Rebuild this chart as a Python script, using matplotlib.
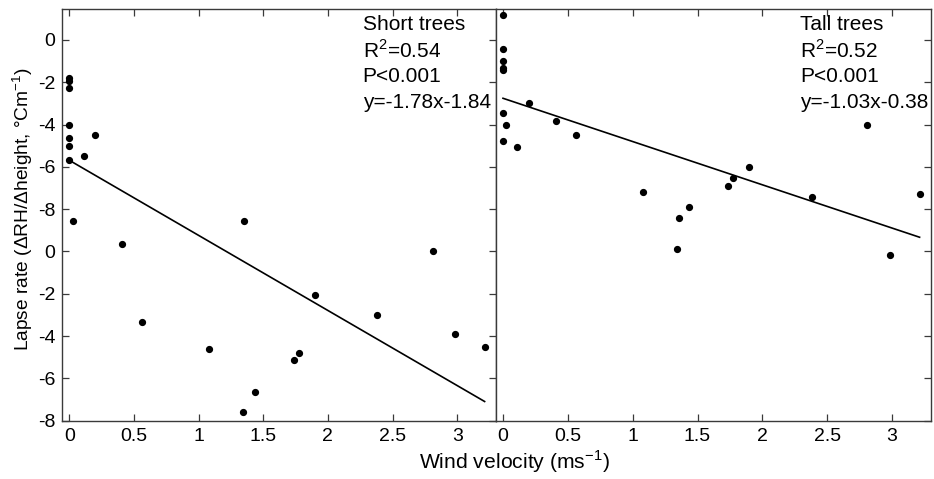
import matplotlib
matplotlib.use("Agg")
import matplotlib.pyplot as plt
import numpy as np

plt.rcParams['font.family'] = ['Liberation Sans', 'DejaVu Sans']
plt.rcParams['mathtext.fontset'] = 'custom'
plt.rcParams['mathtext.rm'] = 'Liberation Sans'

# Wind velocity (shared by both panels)
wind = [0, 0, 0, 0, 0, 0, 0, 0.025, 0.11, 0.20, 0.405, 0.56, 1.08, 1.344,
        1.355, 1.435, 1.735, 1.773, 1.90, 2.38, 2.81, 2.982, 3.212]
# Lapse rate values as placed on the plotted axis
short_lapse = [-1.81, -1.94, -2.28, -4.02, -4.65, -5.0, -5.69, -8.54, -5.47,
               -4.48, -9.63, -13.33, -14.62, -17.59, -8.54, -16.63, -15.14,
               -14.78, -12.07, -13.0, -9.96, -13.88, -14.52]
tall_lapse = [1.17, -0.41, -0.98, -1.34, -1.42, -3.44, -4.76, -4.02, -5.06,
              -2.99, -3.83, -4.49, -7.17, -9.9, -8.4, -7.88, -6.9, -6.54,
              -5.99, -7.44, -4.02, -10.18, -7.28]
# Fitted lines as drawn (intercept, slope in plotted axis units)
short_fit = (-5.69, -3.55)
tall_fit = (-2.76, -2.045)

ytick_pos = [0, -2, -4, -6, -8, -10, -12, -14, -16, -18]
ytick_labels = ['0', '-2', '-4', '-6', '-8', '0', '-2', '-4', '-6', '-8']
xtick_pos = [0, 0.5, 1, 1.5, 2, 2.5, 3]
xtick_labels = ['0', '0.5', '1', '1.5', '2', '2.5', '3']

panel_text = [
    ['Short trees', 'R$^2$=0.54', 'P<0.001', 'y=-1.78x-1.84'],
    ['Tall trees', 'R$^2$=0.52', 'P<0.001', 'y=-1.03x-0.38'],
]

fig = plt.figure(figsize=(9.34, 4.79), dpi=100)
W, H = 934, 479
axL = fig.add_axes([62.3 / W, 1 - 420.7 / H, (496 - 62.3) / W, (420.7 - 9) / H])
axR = fig.add_axes([496 / W, 1 - 420.7 / H, (931 - 496) / W, (420.7 - 9) / H])

spine_col = '#3a3a3a'
for i, (ax, ys, fit) in enumerate([(axL, short_lapse, short_fit),
                                   (axR, tall_lapse, tall_fit)]):
    ax.plot(wind, ys, 'o', color='black', markersize=4.2, linestyle='none')
    xs = np.array([min(wind), max(wind)])
    ax.plot(xs, fit[0] + fit[1] * xs, color='black', linewidth=1.2)
    ax.set_xlim(-0.054, 3.30)
    ax.set_ylim(-18, 1.46)
    ax.set_xticks(xtick_pos)
    ax.set_xticklabels(xtick_labels)
    ax.set_yticks(ytick_pos)
    for s in ax.spines.values():
        s.set_color(spine_col)
        s.set_linewidth(1.0)
    ax.tick_params(direction='in', length=5, width=0.9, color=spine_col,
                   labelsize=14, top=True, right=True, pad=5)
    px = 362.7 if i == 0 else 800
    for k, t in enumerate(panel_text[i]):
        fig.text(px / W, 1 - (24 + 26.3 * k) / H, t, fontsize=15,
                 va='center', ha='left')

axL.set_yticklabels(ytick_labels)
axR.tick_params(labelleft=False, left=False)
fig.text(23 / W, 1 - 209 / H, 'Lapse rate (\u0394RH/\u0394height, \u00b0Cm$^{-1}$)',
         fontsize=13.8, rotation=90, ha='center', va='center')
fig.text(514 / W, 1 - 462 / H, 'Wind velocity (ms$^{-1}$)', fontsize=15.2,
         ha='center', va='center')

fig.savefig('out.png', dpi=100)
